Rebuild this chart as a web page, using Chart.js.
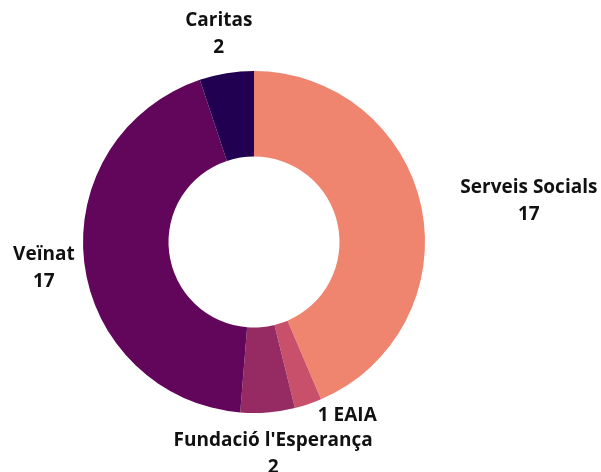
<!DOCTYPE html>
<html>
<head>
<meta charset="utf-8">
<script src="https://cdn.jsdelivr.net/npm/chart.js@4.4.1/dist/chart.umd.min.js"></script>
<style>
  html, body { margin: 0; padding: 0; background: #fff; }
  #wrap { width: 601px; height: 472px; position: relative; }
</style>
</head>
<body>
<div id="wrap"><canvas id="donutChart"></canvas></div>
<script>
// data
const categories = ['Serveis Socials', 'EAIA', "Fundació l'Esperança", 'Veïnat', 'Caritas'];
const values = [17, 1, 2, 17, 2];
const colors = ['#EF846F', '#C8506A', '#962B63', '#61065A', '#210051'];
// EAIA shows its value inline ("1 EAIA") instead of on a second line
const inlineValue = [false, true, false, false, false];
// label placement tweaks (gap outside the ring, extra x / y shift)
const labelGap = [40, 12, 42, 24, 40];
const labelShiftX = [1, 26, -6, 14, 4];
const labelShiftY = [1, 0, 0, 3, 0];

// outside labels: name on one line, value centred below
const outsideLabels = {
    id: 'outsideLabels',
    afterDraw(chart) {
        const ctx = chart.ctx;
        const meta = chart.getDatasetMeta(0);
        ctx.save();
        ctx.font = 'bold 19px "Open Sans", sans-serif';
        ctx.fillStyle = '#111';
        ctx.textAlign = 'center';
        ctx.textBaseline = 'middle';
        const lh = 27;
        meta.data.forEach(function (arc, i) {
            const mid = (arc.startAngle + arc.endAngle) / 2;
            const dx = Math.cos(mid), dy = Math.sin(mid);
            const lines = inlineValue[i]
                ? [values[i] + ' ' + categories[i]]
                : [categories[i], String(values[i])];
            const w = Math.max.apply(null, lines.map(t => ctx.measureText(t).width));
            const r = arc.outerRadius + labelGap[i];
            const x = arc.x + dx * r + dx * w / 2 + labelShiftX[i];
            const y = arc.y + dy * r + labelShiftY[i];
            const y0 = y - (lines.length - 1) * lh / 2;
            lines.forEach(function (t, k) {
                ctx.fillText(t, x, y0 + k * lh);
            });
        });
        ctx.restore();
    }
};

new Chart(document.getElementById('donutChart'), {
    type: 'doughnut',
    data: {
        labels: categories,
        datasets: [{
            data: values,
            backgroundColor: colors,
            borderWidth: 0
        }]
    },
    options: {
        responsive: true,
        maintainAspectRatio: false,
        animation: false,
        cutout: '50%',
        layout: { padding: { left: 83, right: 176, top: 71, bottom: 59 } },
        plugins: {
            legend: { display: false },
            tooltip: { enabled: false }
        }
    },
    plugins: [outsideLabels]
});
</script>
</body>
</html>
